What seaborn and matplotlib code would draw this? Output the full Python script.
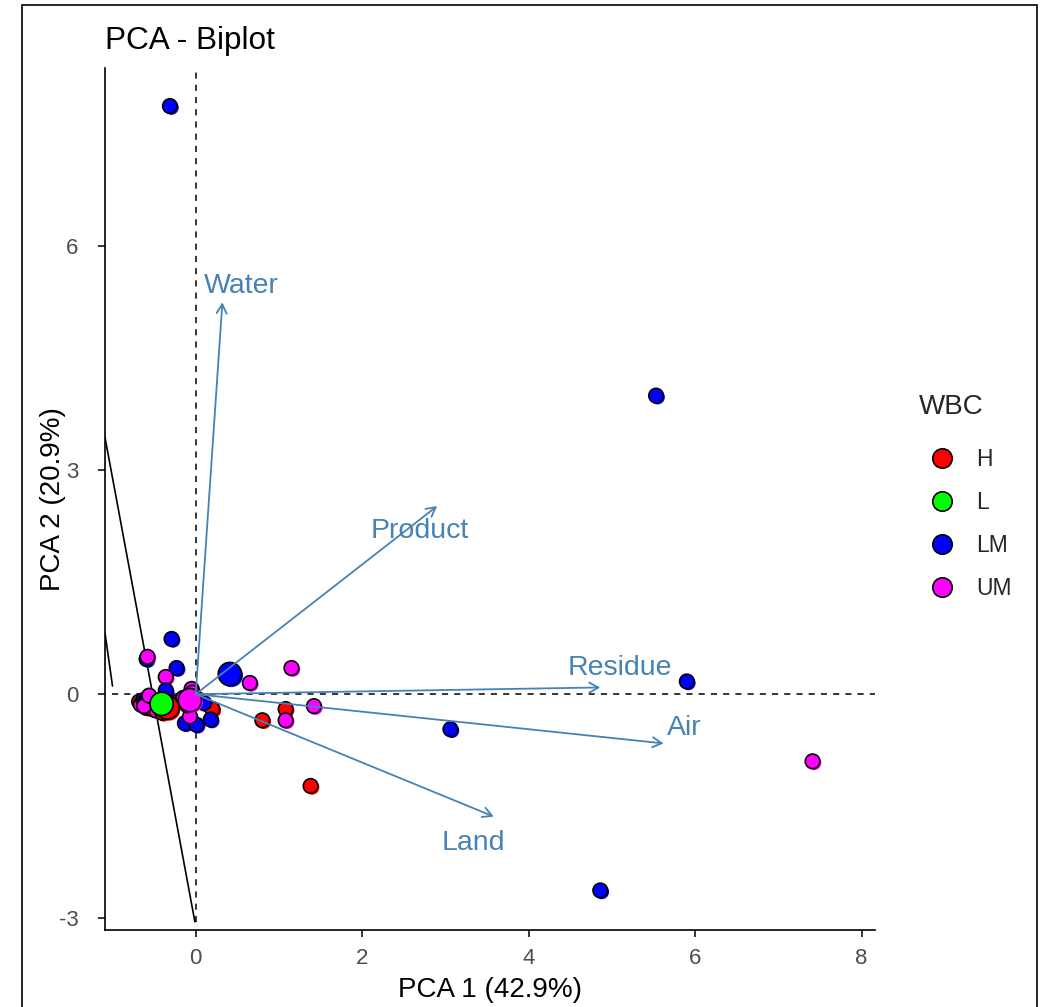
import numpy as np
import pandas as pd
import seaborn as sns
import matplotlib
matplotlib.use("Agg")
import matplotlib.pyplot as plt
from matplotlib.lines import Line2D
from matplotlib.patches import Rectangle
from matplotlib.transforms import ScaledTranslation

# ---------------- data ----------------
pc1 = [-0.31, 5.53, 5.90, 3.06, 4.86, 7.41, 1.38, 1.15, 1.42, 1.08, 1.08, 0.80, 0.65,
       -0.29, -0.23, -0.59, -0.58, -0.36, -0.36, -0.05, 0.20, 0.18, -0.13, 0.01, -0.07,
       -0.68, -0.66, -0.63, -0.61, -0.60, -0.57, -0.55, -0.52, -0.50, -0.47, -0.45,
       -0.40, -0.35, -0.30, -0.25, -0.15, -0.10, -0.04, 0.05, 0.10, -0.62, -0.56]
pc2 = [7.88, 4.00, 0.17, -0.47, -2.63, -0.90, -1.23, 0.35, -0.16, -0.20, -0.35, -0.35, 0.15,
       0.74, 0.35, 0.47, 0.50, 0.23, 0.05, 0.07, -0.20, -0.34, -0.39, -0.41, -0.30,
       -0.10, -0.14, -0.08, -0.11, -0.18, -0.05, -0.15, -0.20, -0.12, -0.22, -0.16,
       -0.25, -0.22, -0.18, -0.12, -0.05, -0.15, 0.02, -0.08, -0.12, -0.16, -0.02]
wbc = ["LM", "LM", "LM", "LM", "LM", "UM", "H", "UM", "UM", "H", "UM", "H", "UM",
       "LM", "LM", "LM", "UM", "UM", "LM", "UM", "H", "LM", "LM", "LM", "UM",
       "H", "UM", "LM", "LM", "H", "UM", "L", "H", "L", "UM", "H",
       "H", "H", "UM", "UM", "UM", "UM", "UM", "UM", "LM", "UM", "UM"]

mean_pc1 = [-0.34, -0.41, 0.41, -0.07]
mean_pc2 = [-0.18, -0.13, 0.27, -0.08]
mean_wbc = ["H", "L", "LM", "UM"]

var_names = ["Water", "Product", "Residue", "Air", "Land"]
load_x = [0.32, 2.90, 4.86, 5.62, 3.58]
load_y = [5.25, 2.52, 0.09, -0.66, -1.64]
label_x = [0.55, 2.69, 5.09, 5.87, 3.34]
label_y = [5.47, 2.19, 0.35, -0.46, -2.00]

ell_a_x = [-1.09, -0.01]
ell_a_y = [3.44, -3.05]
ell_b_x = [-1.09, -1.00]
ell_b_y = [0.82, 0.11]

groups = ["H", "L", "LM", "UM"]
palette = {"H": "#FF0000", "L": "#00FF00", "LM": "#0000FF", "UM": "#FF00FF"}

df = pd.DataFrame({"PC1": pc1, "PC2": pc2, "WBC": wbc})
dm = pd.DataFrame({"PC1": mean_pc1, "PC2": mean_pc2, "WBC": mean_wbc})

# ---------------- figure ----------------
sns.set_theme(style="white")
plt.rcParams["font.family"] = ["Liberation Sans", "DejaVu Sans"]

W, H = 1043, 1007
fig = plt.figure(figsize=(W / 100, H / 100), dpi=100)
ax = fig.add_axes([105 / W, 1 - 930 / H, (875 - 105) / W, (930 - 68) / H])

xmin, xmax = -1.09, 8.16
ymin, ymax = -3.16, 8.39

# reference lines
ax.plot([-1.0, xmax], [0, 0], ls=(0, (4, 4)), color="black", lw=1.1, zorder=1)
ax.plot([0, 0], [-3.05, ymax], ls=(0, (4, 4)), color="black", lw=1.1, zorder=1)

# ellipse fragments
ax.plot(ell_a_x, ell_a_y, color="black", lw=1.2, zorder=1)
ax.plot(ell_b_x, ell_b_y, color="black", lw=1.2, zorder=1)

off = ScaledTranslation(1.5 / 100, -1.5 / 100, fig.dpi_scale_trans)

def draw_points(data, size):
    # colored shadow
    sns.scatterplot(data=data, x="PC1", y="PC2", hue="WBC", hue_order=groups,
                    palette=palette, s=size, edgecolor="none", legend=False,
                    ax=ax, zorder=3)
    coll = ax.collections[-1]
    coll.set_offset_transform(ax.transData + off)
    sns.scatterplot(data=data, x="PC1", y="PC2", hue="WBC", hue_order=groups,
                    palette=palette, s=size, edgecolor="black", linewidth=1.2,
                    legend=False, ax=ax, zorder=3)

draw_points(df, 110)

# loadings arrows
for name, lx, ly, tx, ty in zip(var_names, load_x, load_y, label_x, label_y):
    ax.annotate("", xy=(lx, ly), xytext=(0, 0),
                arrowprops=dict(arrowstyle="->,head_length=0.55,head_width=0.3",
                                color="#4682B4", lw=1.3, shrinkA=0, shrinkB=0),
                zorder=4)
    ax.text(tx, ty, name, color="#4682B4", fontsize=20.5, ha="center", va="center",
            zorder=5)

draw_points(dm, 280)

ax.set_xlim(xmin, xmax)
ax.set_ylim(ymin, ymax)
ax.set_xticks([0, 2, 4, 6, 8])
ax.set_yticks([-3, 0, 3, 6])
ax.set_xticklabels(["0", "2", "4", "6", "8"])
ax.set_yticklabels(["-3", "0", "3", "6"])

for sp in ["top", "right"]:
    ax.spines[sp].set_visible(False)
for sp in ["left", "bottom"]:
    ax.spines[sp].set_color("black")
    ax.spines[sp].set_linewidth(1.2)

ax.tick_params(axis="both", which="both", direction="out", length=5, width=1.1,
               color="black", labelcolor="#4D4D4D", labelsize=16,
               bottom=True, left=True)
ax.tick_params(axis="x", pad=8)
ax.tick_params(axis="y", pad=14)
ax.set_xlabel("PCA 1 (42.9%)", fontsize=20, color="black", labelpad=5.5)
ax.set_ylabel("PCA 2 (20.9%)", fontsize=20, color="black", labelpad=-5)
ax.set_title("PCA - Biplot", fontsize=22.7, loc="left", pad=14, color="black")
ax.grid(False)

# legend
handles = [Line2D([0], [0], marker="o", linestyle="none", markersize=14,
                  markerfacecolor=palette[g], markeredgecolor="black",
                  markeredgewidth=1.2) for g in groups]
leg = ax.legend(handles, groups, title="WBC", loc="upper left",
                bbox_to_anchor=(903 / W, 1 - 378 / H), bbox_transform=fig.transFigure,
                frameon=False, fontsize=16.5, title_fontsize=20,
                handletextpad=0.5, labelspacing=0.88, borderpad=0.2)
leg._legend_box.align = "left"
leg._legend_box.sep = 20

# outer border
fig.patches.append(Rectangle((22 / W, -0.02), (1037 - 22) / W, 1.02 - 5 / H,
                             transform=fig.transFigure, fill=False,
                             edgecolor="black", lw=1.2))

fig.savefig("out.png", dpi=100)
